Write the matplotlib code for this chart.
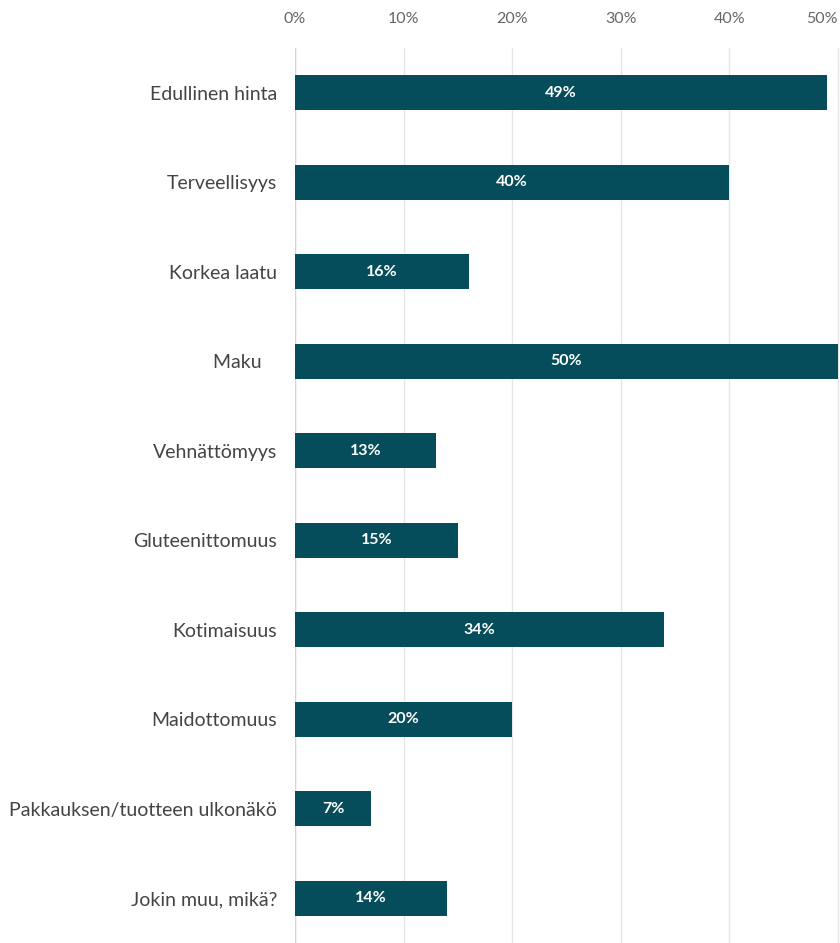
import matplotlib
matplotlib.use("Agg")
import matplotlib.pyplot as plt

categories = ["Edullinen hinta", "Terveellisyys", "Korkea laatu", "Maku   ", "Vehnättömyys",
              "Gluteenittomuus", "Kotimaisuus", "Maidottomuus",
              "Pakkauksen/tuotteen ulkonäkö", "Jokin muu, mikä?"]
values = [49, 40, 16, 50, 13, 15, 34, 20, 7, 14]
xticks = [0, 10, 20, 30, 40, 50]
xticklabels = ["0%", "10%", "20%", "30%", "40%", "50%"]

plt.rcParams['font.family'] = ['Lato', 'DejaVu Sans']

fig = plt.figure(figsize=(8.4, 9.43), dpi=100)
ax = fig.add_axes([295/840, 0.0, 545/840, (943-48)/943])

bar_color = "#054d5a"
ypos = list(range(len(categories)))
ax.barh(ypos, values, height=0.39, color=bar_color, zorder=3)
ax.set_ylim(len(categories) - 0.5, -0.5)
ax.set_xlim(0, 50.2)

for y, v in zip(ypos, values):
    ax.text(v / 2, y, f"{v}%", ha="center", va="center", color="white",
            fontsize=11.5, fontweight="bold", zorder=4)

ax.set_yticks(ypos)
ax.set_yticklabels(categories, fontsize=14, color="#444444")
ax.tick_params(axis="y", length=0, pad=13)

ax.xaxis.tick_top()
ax.set_xticks(xticks)
ax.set_xticklabels(xticklabels, fontsize=11.5, color="#666666")
ax.tick_params(axis="x", length=0, pad=16)
labs = ax.get_xticklabels()
labs[-1].set_horizontalalignment("right")

ax.grid(axis="x", color="#e6e6e6", linewidth=1, zorder=0)
ax.axvline(0, color="#ccd6eb", linewidth=1, zorder=2)
for s in ax.spines.values():
    s.set_visible(False)

fig.savefig("out.png", dpi=100)
